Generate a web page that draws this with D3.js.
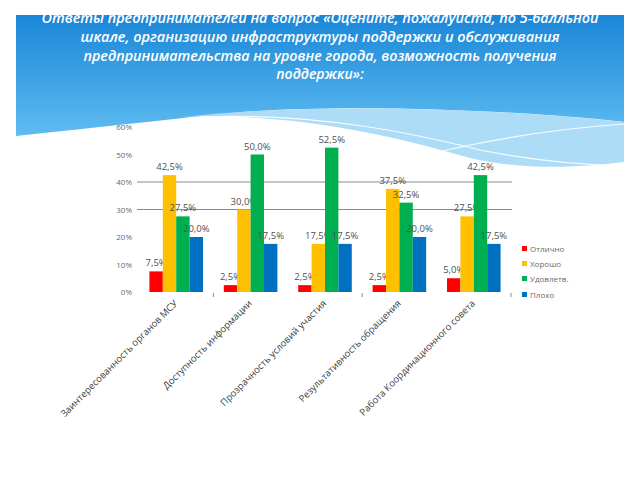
<!DOCTYPE html>
<html><head><meta charset="utf-8">
<script src="https://cdn.jsdelivr.net/npm/d3@7/dist/d3.min.js"></script>
<style>html,body{margin:0;padding:0;background:#fff;}svg{display:block;}</style>
</head><body>
<script>
const titleLines = [
  "Ответы предпринимателей на вопрос «Оцените, пожалуйста, по 5-балльной",
  "шкале,  организацию  инфраструктуры поддержки и обслуживания",
  "предпринимательства на уровне города,  возможность получения",
  "поддержки»:"
];
const categories = [
  "Заинтересованность органов МСУ",
  "Доступность информации",
  "Прозрачность условий участия",
  "Результативность обращения",
  "Работа Координационного совета"
];
const seriesNames = ["Отлично", "Хорошо", "Удовлетв.", "Плохо"];
const seriesColors = ["#ff0000", "#ffc000", "#00b050", "#0070c0"];
const excellent = [7.5, 2.5, 2.5, 2.5, 5.0];
const good = [42.5, 30.0, 17.5, 37.5, 27.5];
const satisfactory = [27.5, 50.0, 52.5, 32.5, 42.5];
const bad = [20.0, 17.5, 17.5, 20.0, 17.5];
const yTicks = [0, 10, 20, 30, 40, 50, 60];
const gridTicks = [30, 40];

const seriesValues = [excellent, good, satisfactory, bad];
const W = 640, H = 480;
const svg = d3.select("body").append("svg").attr("width", W).attr("height", H);

// background header
const defs = svg.append("defs");
const grad = defs.append("linearGradient").attr("id", "hdr").attr("x1", 0).attr("y1", 0).attr("x2", 0).attr("y2", 1);
grad.append("stop").attr("offset", "0%").attr("stop-color", "#1a86d8");
grad.append("stop").attr("offset", "100%").attr("stop-color", "#5fbcf0");
svg.append("path")
  .attr("d", "M16,15 L624,15 L624,122 C540,112 330,100 200,116 C130,124 70,130 16,136 Z")
  .attr("fill", "url(#hdr)");
svg.append("path")
  .attr("d", "M180,117 C300,112 400,138 470,158 C530,172 590,166 624,162 L624,122 C540,112 330,100 180,117 Z")
  .attr("fill", "#9fd6f6").attr("opacity", 0.85);
svg.append("path")
  .attr("d", "M200,117 C320,112 420,135 480,150 C540,162 590,165 624,166")
  .attr("fill", "none").attr("stroke", "#ffffff").attr("stroke-width", 1.2).attr("opacity", 0.9);
svg.append("path")
  .attr("d", "M395,163 C460,145 540,130 624,124")
  .attr("fill", "none").attr("stroke", "#ffffff").attr("stroke-width", 1.2).attr("opacity", 0.9);

// title
const titleY = [23, 42, 61, 79];
const titleW = [557, 479, 473, null];
titleLines.forEach((t, i) => {
  const tx = svg.append("text")
    .attr("x", 320).attr("y", titleY[i])
    .attr("text-anchor", "middle")
    .attr("font-family", "'Open Sans', sans-serif")
    .attr("font-style", "italic").attr("font-weight", 600)
    .attr("font-size", 14).attr("fill", "#ffffff")
    .text(t);
  if (titleW[i]) tx.attr("textLength", titleW[i]).attr("lengthAdjust", "spacingAndGlyphs");
});

// scales
const x0 = d3.scaleBand().domain(categories).range([139, 511]).paddingInner(0.28).paddingOuter(0.14);
const x1 = d3.scaleBand().domain(seriesNames).range([0, x0.bandwidth()]);
const y = d3.scaleLinear().domain([0, 60]).range([292, 127]);

// gridlines
svg.append("g").selectAll("line").data(gridTicks).join("line")
  .attr("x1", 137).attr("x2", 512)
  .attr("y1", d => y(d)).attr("y2", d => y(d))
  .attr("stroke", "#8a8a8a").attr("stroke-width", 1);

// y axis labels
const yAxis = d3.axisLeft(y).tickValues(yTicks).tickFormat(d => d + "%").tickSize(0).tickPadding(0);
const gy = svg.append("g").attr("transform", "translate(132,0)").call(yAxis);
gy.select(".domain").remove();
gy.selectAll("text").attr("font-family", "'Open Sans', sans-serif").attr("font-size", 8).attr("fill", "#6a6a6a");

// bars
const groups = svg.append("g").selectAll("g").data(categories).join("g")
  .attr("transform", d => `translate(${x0(d)},0)`);
groups.each(function(cat, ci) {
  const g = d3.select(this);
  seriesNames.forEach((s, si) => {
    const v = seriesValues[si][ci];
    g.append("rect")
      .attr("x", x1(s)).attr("width", x1.bandwidth())
      .attr("y", y(v)).attr("height", y(0) - y(v))
      .attr("fill", seriesColors[si]);
    g.append("text")
      .attr("x", x1(s) + x1.bandwidth() / 2).attr("y", y(v) - 5)
      .attr("text-anchor", "middle")
      .attr("font-family", "'Open Sans', sans-serif").attr("font-size", 9.5)
      .attr("fill", "#505050")
      .text(v.toFixed(1).replace(".", ",") + "%");
  });
});

// category ticks
const boundaries = [1, 3, 5].map(i => 139 + x0.step() * i);
svg.append("g").selectAll("line").data(boundaries).join("line")
  .attr("x1", d => d).attr("x2", d => d).attr("y1", 293).attr("y2", 297)
  .attr("stroke", "#8a8a8a").attr("stroke-width", 1);

// category labels
svg.append("g").selectAll("text").data(categories).join("text")
  .attr("transform", d => `translate(${x0(d) + x0.bandwidth() / 2 + 2},304) rotate(-45)`)
  .attr("text-anchor", "end")
  .attr("font-family", "'Open Sans', sans-serif").attr("font-size", 9.5)
  .attr("fill", "#404040")
  .text(d => d);

// legend
const legY = [249, 264, 279, 295];
const leg = svg.append("g");
seriesNames.forEach((s, i) => {
  leg.append("rect").attr("x", 522).attr("y", legY[i] - 3).attr("width", 5).attr("height", 5).attr("fill", seriesColors[i]);
  leg.append("text").attr("x", 530).attr("y", legY[i] + 3)
    .attr("font-family", "'Open Sans', sans-serif").attr("font-size", 8).attr("fill", "#6a6a6a")
    .text(s);
});
</script>
</body></html>
